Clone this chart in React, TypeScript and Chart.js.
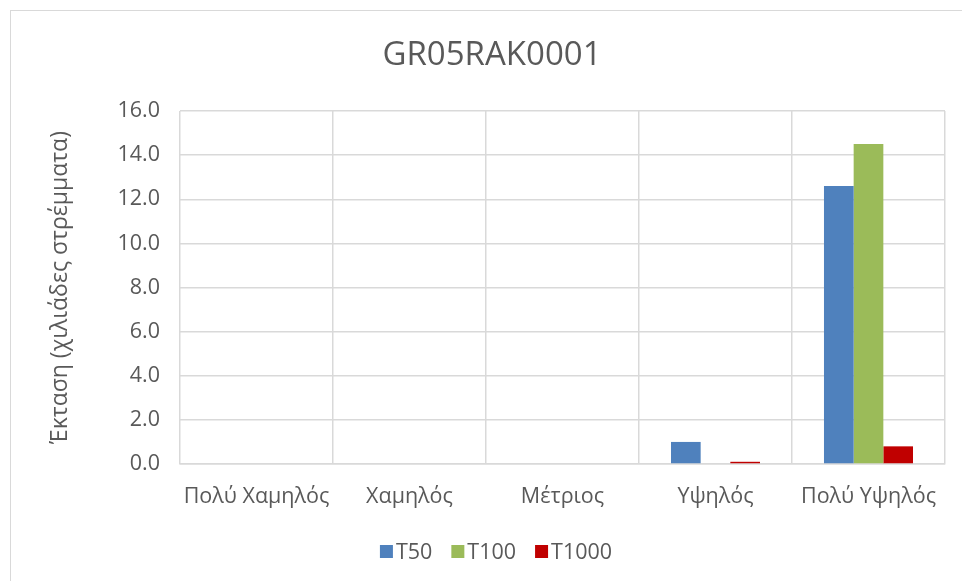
import React, { useEffect, useRef } from "react";
import { Chart, registerables } from "chart.js";

Chart.register(...registerables);

const TITLE = "GR05RAK0001";
const Y_TITLE = "Έκταση (χιλιάδες στρέμματα)";
const CATEGORIES = ["Πολύ Χαμηλός", "Χαμηλός", "Μέτριος", "Υψηλός", "Πολύ Υψηλός"];
const SERIES_NAMES = ["T50", "T100", "T1000"];
const T50 = [0, 0, 0, 1.0, 12.6];
const T100 = [0, 0, 0, 0, 14.5];
const T1000 = [0, 0, 0, 0.1, 0.8];
const SERIES_COLORS = ["#4F81BD", "#9BBB59", "#C00000"];
const Y_MIN = 0;
const Y_MAX = 16;
const Y_STEP = 2;

const FONT = '"Open Sans", "Noto Sans", sans-serif';
const TEXT_COLOR = "#595959";
const GRID_COLOR = "#d9d9d9";

const CANVAS_W = 964;
const CANVAS_H = 570;

const legendPlugin = {
  id: "excelLegend",
  afterDraw(chart: any) {
    const ctx = chart.ctx as CanvasRenderingContext2D;
    ctx.save();
    ctx.font = `21.5px ${FONT}`;
    ctx.textBaseline = "middle";
    ctx.textAlign = "left";
    const box = 13;
    const gapBT = 3;
    const gapItem = 19;
    const items = chart.data.datasets.map((ds: any) => ({
      text: ds.label as string,
      color: ds.backgroundColor as string,
      w: ctx.measureText(ds.label).width,
    }));
    const total =
      items.reduce((s: number, it: any) => s + box + gapBT + it.w, 0) +
      gapItem * (items.length - 1);
    let x = chart.width / 2 + 3 - total / 2;
    const y = chart.height - 29.5;
    for (const it of items) {
      ctx.fillStyle = it.color;
      ctx.fillRect(x, y - box / 2, box, box);
      x += box + gapBT;
      ctx.fillStyle = TEXT_COLOR;
      ctx.fillText(it.text, x, y + 1);
      x += it.w + gapItem;
    }
    ctx.restore();
  },
};

export default function App() {
  const ref = useRef<HTMLCanvasElement | null>(null);

  useEffect(() => {
    if (!ref.current) return;
    const seriesValues = [T50, T100, T1000];
    const chart = new Chart(ref.current, {
      type: "bar",
      data: {
        labels: CATEGORIES,
        datasets: SERIES_NAMES.map((name, i) => ({
          label: name,
          data: seriesValues[i],
          backgroundColor: SERIES_COLORS[i],
          borderWidth: 0,
          categoryPercentage: 0.582,
          barPercentage: 1.0,
        })),
      },
      options: {
        responsive: false,
        animation: false,
        devicePixelRatio: 1,
        layout: { padding: { left: 28, right: 30, top: 0, bottom: 57 } },
        plugins: {
          legend: { display: false },
          tooltip: { enabled: false },
          title: {
            display: true,
            text: TITLE,
            color: TEXT_COLOR,
            font: { family: FONT, size: 33, weight: "normal" },
            padding: { top: 25, bottom: 35.4 },
          },
        },
        scales: {
          x: {
            offset: true,
            grid: {
              display: true,
              offset: true,
              color: GRID_COLOR,
              lineWidth: 1.5,
              drawTicks: false,
            },
            border: { display: true, color: GRID_COLOR, width: 1.5 },
            ticks: {
              color: TEXT_COLOR,
              font: { family: FONT, size: 21.5 },
              padding: 20,
              maxRotation: 0,
              autoSkip: false,
            },
            afterFit(scale: any) {
              scale.height = 60;
            },
          },
          y: {
            min: Y_MIN,
            max: Y_MAX,
            grid: {
              color: GRID_COLOR,
              lineWidth: 1.5,
              drawTicks: false,
            },
            border: { display: false },
            ticks: {
              stepSize: Y_STEP,
              color: TEXT_COLOR,
              font: { family: FONT, size: 21.5 },
              padding: 20,
              callback: (v: any) => Number(v).toFixed(1),
            },
            title: {
              display: true,
              text: Y_TITLE,
              color: TEXT_COLOR,
              font: { family: FONT, size: 23, weight: "normal" },
              padding: { top: 8, bottom: 0 },
            },
            afterFit(scale: any) {
              scale.width = 141;
            },
          },
        },
      },
      plugins: [legendPlugin],
    });
    return () => chart.destroy();
  }, []);

  return (
    <div
      style={{
        position: "fixed",
        left: 0,
        top: 0,
        width: 962,
        height: 581,
        overflow: "hidden",
        background: "#ffffff",
      }}
    >
      <div
        style={{
          position: "absolute",
          left: 10,
          top: 10,
          width: 1000,
          height: 600,
          borderLeft: "1px solid #d9d9d9",
          borderTop: "1px solid #d9d9d9",
          boxSizing: "border-box",
        }}
      />
      <canvas
        ref={ref}
        width={CANVAS_W}
        height={CANVAS_H}
        style={{ position: "absolute", left: 11, top: 11, width: CANVAS_W, height: CANVAS_H }}
      />
    </div>
  );
}
